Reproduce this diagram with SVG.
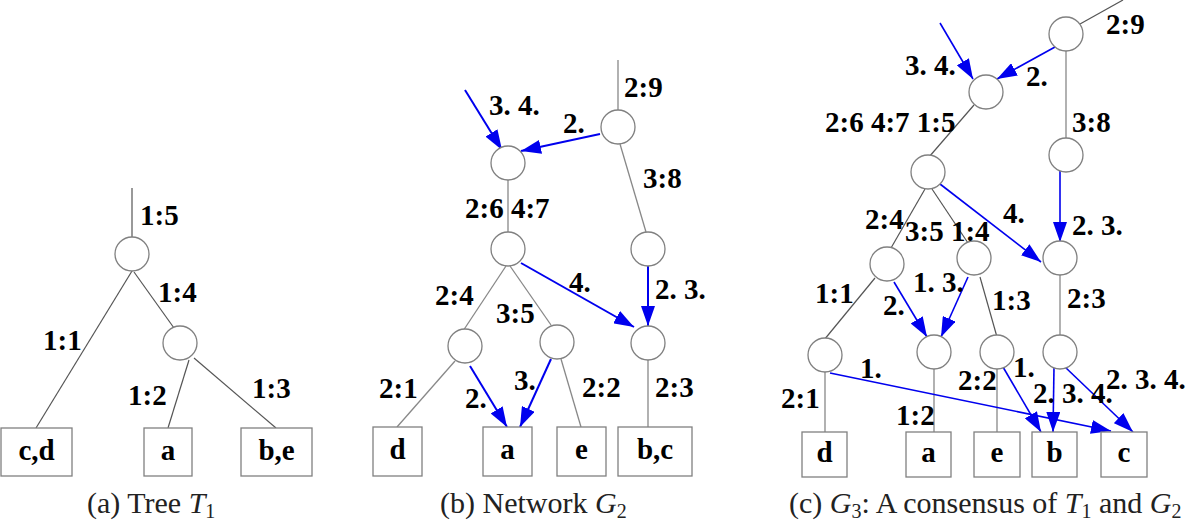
<svg xmlns="http://www.w3.org/2000/svg" width="1200" height="523" viewBox="0 0 1200 523">
<style>
.n{fill:#fff;stroke:#808080;stroke-width:1.3}
.e{stroke:#888;stroke-width:1.3;fill:none}
.ea{stroke:#555;stroke-width:1.2;fill:none}
.eb{stroke:#0000ee;stroke-width:2;fill:none}
.ec{stroke:#0000ee;stroke-width:1.6;fill:none}
.l{font-family:"Liberation Serif","Times New Roman",serif;font-weight:bold;font-size:29px;fill:#000}
.lf{font-family:"Liberation Serif","Times New Roman",serif;font-weight:bold;font-size:29px;fill:#000;text-anchor:middle}
.cap{font-family:"Liberation Serif","Times New Roman",serif;font-size:30px;fill:#222}
</style>
<defs>
<marker id="ah" markerUnits="userSpaceOnUse" markerWidth="20" markerHeight="14" viewBox="0 0 20 14" refX="20" refY="7" orient="auto">
<path d="M0,0 L20,7 L0,14 z" fill="#0000ee"/>
</marker>
</defs>
<g id="connectors">
<!-- panel a -->
<line class="ea" x1="132" y1="188" x2="132" y2="237"/>
<line class="ea" x1="132" y1="271" x2="36" y2="428"/>
<line class="ea" x1="134" y1="272" x2="174" y2="328"/>
<line class="ea" x1="189" y1="360" x2="168" y2="428"/>
<line class="ea" x1="194" y1="358" x2="276" y2="428"/>
<!-- panel b -->
<line class="e" x1="618" y1="60" x2="618" y2="110"/>
<line class="eb" x1="465" y1="90" x2="502" y2="150" marker-end="url(#ah)"/>
<line class="eb" x1="600" y1="134" x2="521" y2="151" marker-end="url(#ah)"/>
<line class="e" x1="508" y1="180" x2="508" y2="232"/>
<line class="e" x1="620" y1="144" x2="646" y2="232"/>
<line class="eb" x1="648" y1="266" x2="648" y2="326" marker-end="url(#ah)"/>
<line class="eb" x1="521" y1="263" x2="634" y2="327" marker-end="url(#ah)"/>
<line class="e" x1="506" y1="266" x2="463" y2="331"/>
<line class="e" x1="510" y1="266" x2="551" y2="325"/>
<line class="e" x1="455" y1="361" x2="397" y2="427"/>
<line class="eb" x1="470" y1="366" x2="507" y2="427" marker-end="url(#ah)"/>
<line class="eb" x1="551" y1="359" x2="520" y2="427" marker-end="url(#ah)"/>
<line class="e" x1="561" y1="359" x2="581" y2="427"/>
<line class="e" x1="648" y1="360" x2="648" y2="427"/>
<!-- panel c -->
<line class="ea" x1="1123" y1="0" x2="1080" y2="24"/>
<line class="ec" x1="940" y1="23" x2="973" y2="79" marker-end="url(#ah)"/>
<line class="ec" x1="1055" y1="47" x2="997" y2="79" marker-end="url(#ah)"/>
<line class="e" x1="1066" y1="51" x2="1066" y2="138"/>
<line class="ea" x1="974" y1="105" x2="929" y2="157"/>
<line class="ec" x1="1060" y1="167" x2="1060" y2="242" marker-end="url(#ah)"/>
<line class="ec" x1="940" y1="184" x2="1041" y2="262" marker-end="url(#ah)"/>
<line class="ea" x1="925" y1="189" x2="891" y2="248"/>
<line class="ea" x1="932" y1="189" x2="968" y2="243"/>
<line class="ea" x1="875" y1="278" x2="824" y2="340"/>
<line class="ec" x1="894" y1="282" x2="927" y2="337" marker-end="url(#ah)"/>
<line class="ec" x1="968" y1="277" x2="941" y2="337" marker-end="url(#ah)"/>
<line class="ea" x1="980" y1="277" x2="997" y2="337"/>
<line class="e" x1="1060" y1="275" x2="1060" y2="335"/>
<line class="e" x1="825" y1="372" x2="825" y2="432"/>
<line class="e" x1="934" y1="369" x2="934" y2="432"/>
<line class="e" x1="997" y1="369" x2="997" y2="432"/>
<line class="ec" x1="830" y1="373" x2="1111" y2="431" marker-end="url(#ah)"/>
<line class="ec" x1="1003" y1="367" x2="1041" y2="432" marker-end="url(#ah)"/>
<line class="ec" x1="1054" y1="367" x2="1053" y2="432" marker-end="url(#ah)"/>
<line class="ec" x1="1065" y1="367" x2="1133" y2="432" marker-end="url(#ah)"/>
</g>
<!-- panel a nodes -->
<g id="a_root"><circle class="n" cx="132" cy="254" r="17"/></g>
<g id="a_inner"><circle class="n" cx="180" cy="343" r="17"/></g>
<g id="a_cd"><rect class="n" x="1" y="428" width="71" height="48"/><text class="lf" x="36.5" y="460">c,d</text></g>
<g id="a_a"><rect class="n" x="144" y="428" width="48" height="48"/><text class="lf" x="168" y="460">a</text></g>
<g id="a_be"><rect class="n" x="241" y="428" width="71" height="48"/><text class="lf" x="276.5" y="460">b,e</text></g>
<g id="a_labels">
<text class="l" x="140" y="225">1:5</text>
<text class="l" x="158" y="302">1:4</text>
<text class="l" x="43" y="350">1:1</text>
<text class="l" x="128" y="405">1:2</text>
<text class="l" x="252" y="398">1:3</text>
</g>
<!-- panel b nodes -->
<g id="b_top"><circle class="n" cx="618" cy="127" r="17"/></g>
<g id="b_ret"><circle class="n" cx="508" cy="163" r="17"/></g>
<g id="b_mid"><circle class="n" cx="508" cy="249" r="17"/></g>
<g id="b_r1"><circle class="n" cx="648" cy="249" r="17"/></g>
<g id="b_l"><circle class="n" cx="465" cy="346" r="17"/></g>
<g id="b_m"><circle class="n" cx="557" cy="342" r="17"/></g>
<g id="b_r2"><circle class="n" cx="648" cy="343" r="17"/></g>
<g id="b_d"><rect class="n" x="373" y="427" width="49" height="49"/><text class="lf" x="397.5" y="459">d</text></g>
<g id="b_a"><rect class="n" x="483" y="427" width="49" height="49"/><text class="lf" x="507.5" y="459">a</text></g>
<g id="b_e"><rect class="n" x="557" y="427" width="49" height="49"/><text class="lf" x="581.5" y="459">e</text></g>
<g id="b_bc"><rect class="n" x="618" y="427" width="74" height="49"/><text class="lf" x="655" y="459">b,c</text></g>
<g id="b_labels">
<text class="l" x="624" y="97">2:9</text>
<text class="l" x="489" y="115">3. 4.</text>
<text class="l" x="563" y="133">2.</text>
<text class="l" x="465" y="218">2:6 4:7</text>
<text class="l" x="643" y="188">3:8</text>
<text class="l" x="655" y="299">2. 3.</text>
<text class="l" x="569" y="292">4.</text>
<text class="l" x="435" y="305">2:4</text>
<text class="l" x="496" y="323">3:5</text>
<text class="l" x="379" y="398">2:1</text>
<text class="l" x="465" y="408">2.</text>
<text class="l" x="514" y="390">3.</text>
<text class="l" x="582" y="397">2:2</text>
<text class="l" x="655" y="397">2:3</text>
</g>
<!-- panel c nodes -->
<g id="c_top"><circle class="n" cx="1066" cy="34" r="17"/></g>
<g id="c_ret"><circle class="n" cx="986" cy="92" r="17"/></g>
<g id="c_38"><circle class="n" cx="1066" cy="155" r="17"/></g>
<g id="c_mid"><circle class="n" cx="928" cy="172" r="17"/></g>
<g id="c_23"><circle class="n" cx="1060" cy="258" r="17"/></g>
<g id="c_l"><circle class="n" cx="887" cy="264" r="17"/></g>
<g id="c_m"><circle class="n" cx="974" cy="258" r="17"/></g>
<g id="c_dn"><circle class="n" cx="825" cy="355" r="17"/></g>
<g id="c_an"><circle class="n" cx="934" cy="352" r="17"/></g>
<g id="c_en"><circle class="n" cx="997" cy="352" r="17"/></g>
<g id="c_bc"><circle class="n" cx="1060" cy="352" r="17"/></g>
<g id="c_d"><rect class="n" x="802" y="432" width="45" height="45"/><text class="lf" x="824.5" y="462">d</text></g>
<g id="c_a"><rect class="n" x="906" y="432" width="45" height="45"/><text class="lf" x="928.5" y="462">a</text></g>
<g id="c_e"><rect class="n" x="974" y="432" width="46" height="45"/><text class="lf" x="997" y="462">e</text></g>
<g id="c_b"><rect class="n" x="1032" y="432" width="45" height="45"/><text class="lf" x="1054.5" y="462">b</text></g>
<g id="c_c"><rect class="n" x="1101" y="432" width="46" height="45"/><text class="lf" x="1124" y="462">c</text></g>
<g id="c_labels">
<text class="l" x="1106" y="34">2:9</text>
<text class="l" x="905" y="75">3. 4.</text>
<text class="l" x="1026" y="86">2.</text>
<text class="l" x="1072" y="132">3:8</text>
<text class="l" x="825" y="132">2:6 4:7 1:5</text>
<text class="l" x="1072" y="235">2. 3.</text>
<text class="l" x="1003" y="223">4.</text>
<text class="l" x="865" y="229">2:4</text>
<text class="l" x="905" y="241">3:5 1:4</text>
<text class="l" x="815" y="303">1:1</text>
<text class="l" x="883" y="315">2.</text>
<text class="l" x="913" y="292">1. 3.</text>
<text class="l" x="992" y="310">1:3</text>
<text class="l" x="1067" y="308">2:3</text>
<text class="l" x="781" y="408">2:1</text>
<text class="l" x="860" y="378">1.</text>
<text class="l" x="896" y="425">1:2</text>
<text class="l" x="958" y="390">2:2</text>
<text class="l" x="1013" y="377">1.</text>
<text class="l" x="1033" y="403">2. 3. 4.</text>
<text class="l" x="1106" y="389">2. 3. 4.</text>
</g>
<g id="captions">
<text class="cap" x="87" y="513">(a) Tree <tspan font-style="italic">T</tspan><tspan font-size="20" dy="5">1</tspan></text>
<text class="cap" x="440" y="513">(b) Network <tspan font-style="italic">G</tspan><tspan font-size="20" dy="5">2</tspan></text>
<text class="cap" x="789" y="513">(c) <tspan font-style="italic">G</tspan><tspan font-size="20" dy="5">3</tspan><tspan dy="-5">: A consensus of </tspan><tspan font-style="italic">T</tspan><tspan font-size="20" dy="5">1</tspan><tspan dy="-5"> and </tspan><tspan font-style="italic">G</tspan><tspan font-size="20" dy="5">2</tspan></text>
</g>
</svg>
